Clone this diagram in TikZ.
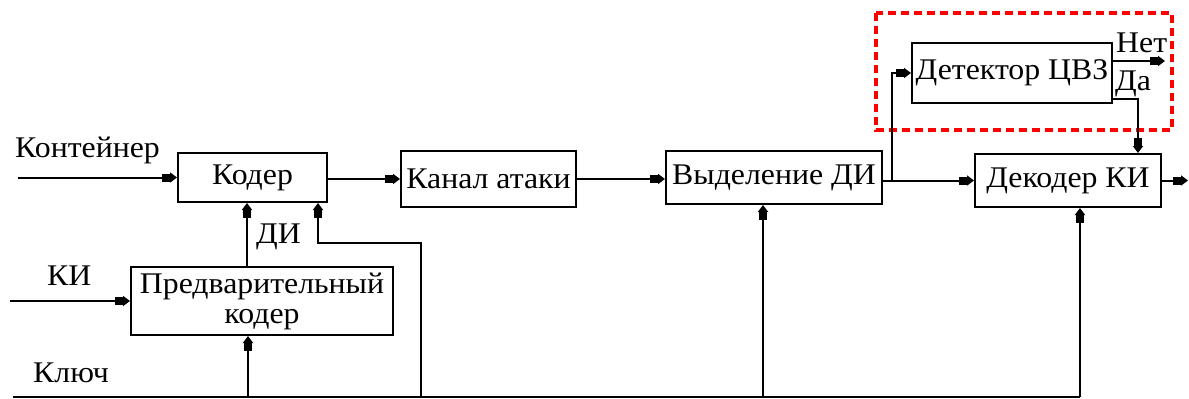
\documentclass[tikz,border=0pt]{standalone}
\usepackage{fontspec}
\setmainfont{Liberation Serif}[FakeStretch=1.06]
\usetikzlibrary{arrows.meta,calc}

\begin{document}
\begin{tikzpicture}[x=1pt,y=-1pt,
  txt/.style={font=\fontsize{30}{30}\selectfont},
  box/.style={draw, line width=2pt, inner sep=0pt, align=center, txt},
  lbl/.style={inner sep=0pt, txt},
  wire/.style={line width=2pt},
  arr/.style={wire, -{Rectangle[length=8pt,width=8pt,sep=0pt]Triangle[length=7pt,width=10pt]}},
  frame/.style={draw=red, line width=3.5pt, dash pattern=on 8pt off 5pt}
]
\useasboundingbox (0,0) rectangle (1189,399);

% blocks
\node[box, minimum width=149pt, minimum height=49pt] (koder) at (252.5,177.5) {Кодер};
\node[box, minimum width=175pt, minimum height=56pt] (kanal) at (488.5,179) {Канал атаки};
\node[box, minimum width=262pt, minimum height=68pt] (pre) at (262,301) {Предварительный\\кодер};
\node[box, minimum width=216pt, minimum height=53pt] (vyd) at (774,177.5) {Выделение ДИ};
\node[box, minimum width=200pt, minimum height=60pt] (det) at (1012,73) {Детектор ЦВЗ};
\node[box, minimum width=186pt, minimum height=53pt] (dek) at (1068,180.5) {Декодер КИ};

% watermark detector frame
\draw[frame] (876,13) rectangle (1172,130);

% labels
\node[lbl, anchor=base west] (lcont) at (15,157) {Контейнер};
\node[lbl, anchor=base west] (lki) at (47,285) {КИ};
\node[lbl, anchor=base west] (lkey) at (33,382) {Ключ};
\node[lbl, anchor=base west] (ldi) at (256,243) {ДИ};
\node[lbl, anchor=base west] (lnet) at (1116,52) {Нет};
\node[lbl, anchor=base west] (lda) at (1115,90) {Да};

% free ends and branch points
\coordinate (cin) at (18,177.5);
\coordinate (kin) at (10,301);
\coordinate (k0) at (13,397);
\coordinate (kpre) at (248,397);
\coordinate (kfb) at (421,397);
\coordinate (kvyd) at (763,397);
\coordinate (kdek) at (1080,397);
\coordinate (fb) at (318,243);
\coordinate (di) at (247,240);
\coordinate (br) at (892,180.5);
\coordinate (net) at (1165,61);
\coordinate (da) at (1138,99);
\coordinate (out) at (1188,180.5);

% main path
\draw[arr] (cin) -- (koder.west);
\draw[arr] (koder.east |- kanal.west) -- (kanal.west);
\draw[arr] (kanal.east) -- (kanal.east -| vyd.west);
\draw[arr] (vyd.east |- dek.west) -- (dek.west);
\draw[arr] (br) |- (det.west);
\draw[arr] (det.east |- net) -- (net);
\draw[arr] (det.east |- da) -- (da) -- (da |- dek.north);
\draw[arr] (dek.east) -- (out);

% message input
\draw[arr] (kin) -- (pre.west);
\draw[arr] (di |- pre.north) -- (di |- koder.south);

% key bus
\draw[wire] (k0) -- (kdek);
\draw[arr] (kpre) -- (kpre |- pre.south);
\draw[arr] (kfb) |- (fb) -- (fb |- koder.south);
\draw[arr] (kvyd) -- (kvyd |- vyd.south);
\draw[arr] (kdek) -- (kdek |- dek.south);
\end{tikzpicture}
\end{document}
